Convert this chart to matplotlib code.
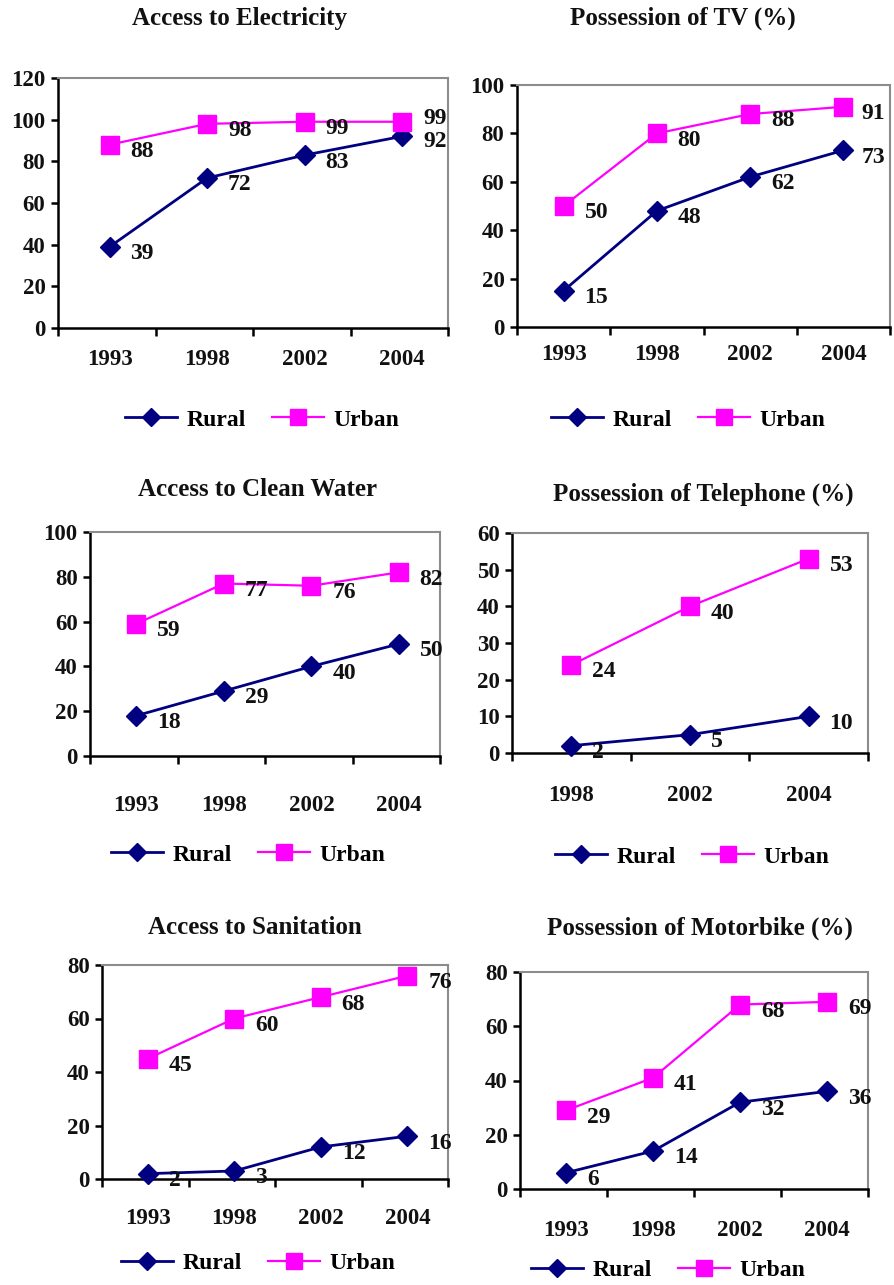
import matplotlib
matplotlib.use("Agg")
import matplotlib.pyplot as plt
from matplotlib.lines import Line2D

plt.rcParams['font.family'] = ['Liberation Serif', 'DejaVu Serif']

W, H = 894, 1285

titles = ["Access to Electricity", "Possession of TV (%)",
          "Access to Clean Water", "Possession of Telephone (%)",
          "Access to Sanitation", "Possession of Motorbike (%)"]

years4 = ["1993", "1998", "2002", "2004"]
years3 = ["1998", "2002", "2004"]

elec_rural = [39, 72, 83, 92]
elec_urban = [88, 98, 99, 99]
tv_rural = [15, 48, 62, 73]
tv_urban = [50, 80, 88, 91]
water_rural = [18, 29, 40, 50]
water_urban = [59, 77, 76, 82]
phone_rural = [2, 5, 10]
phone_urban = [24, 40, 53]
san_rural = [2, 3, 12, 16]
san_urban = [45, 60, 68, 76]
moto_rural = [6, 14, 32, 36]
moto_urban = [29, 41, 68, 69]

panels = [
    dict(cats=years4, rural=elec_rural, urban=elec_urban, ymax=120, step=20,
         box=(58, 78, 448, 328), title_y=18, leg_y=420, leg_x=262, pad=15, off=0.53),
    dict(cats=years4, rural=tv_rural, urban=tv_urban, ymax=100, step=20,
         box=(517, 85, 890, 327), title_y=18, leg_y=420, leg_x=688, pad=12, off=0.5),
    dict(cats=years4, rural=water_rural, urban=water_urban, ymax=100, step=20,
         box=(90, 532, 440, 756), title_y=490, leg_y=855, leg_x=248, pad=28, off=0.53),
    dict(cats=years3, rural=phone_rural, urban=phone_urban, ymax=60, step=10,
         box=(512, 533, 868, 753), title_y=494, leg_y=857, leg_x=692, pad=23, off=0.5),
    dict(cats=years4, rural=san_rural, urban=san_urban, ymax=80, step=20,
         box=(102, 965, 448, 1179), title_y=928, leg_y=1263, leg_x=258, pad=21, off=0.53),
    dict(cats=years4, rural=moto_rural, urban=moto_urban, ymax=80, step=20,
         box=(520, 972, 868, 1189), title_y=928, leg_y=1270, leg_x=668, pad=22, off=0.53),
]

title_x = [240, 683, 257, 703, 255, 700]

fig = plt.figure(figsize=(W / 100, H / 100), dpi=100)

NAVY = "#000080"
MAG = "#FF00FF"
TXT = "#111111"

for i, p in enumerate(panels):
    x0, y0, x1, y1 = p['box']
    ax = fig.add_axes([x0 / W, 1 - y1 / H, (x1 - x0) / W, (y1 - y0) / H])
    n = len(p['cats'])
    xs = [k + p['off'] for k in range(n)]
    ax.plot(xs, p['rural'], color=NAVY, lw=2, marker='D', ms=10,
            markerfacecolor=NAVY, markeredgecolor=NAVY, clip_on=False, zorder=3)
    ax.plot(xs, p['urban'], color=MAG, lw=1.6, marker='s', ms=13,
            markerfacecolor=MAG, markeredgecolor=MAG, clip_on=False, zorder=3)
    for k in range(n):
        ru, ur = p['rural'][k], p['urban'][k]
        dy_r, dy_u = -5, -5
        dx = 15
        if i == 1 and k == n - 1:
            dx = 13
        if i == 0 and k == n - 1:
            dy_u, dy_r = 2, -4
        ax.annotate(str(ru), (xs[k], ru), xytext=(dx, dy_r), textcoords='offset points',
                    ha='left', va='center', fontsize=17, fontweight='bold', color=TXT,
                    annotation_clip=False)
        ax.annotate(str(ur), (xs[k], ur), xytext=(dx, dy_u), textcoords='offset points',
                    ha='left', va='center', fontsize=17, fontweight='bold', color=TXT,
                    annotation_clip=False)
    ax.set_xlim(0, n)
    ax.set_ylim(0, p['ymax'])
    ax.set_xticks(range(n + 1))
    ax.set_xticklabels([])
    ax.set_xticks(xs, minor=True)
    ax.set_xticklabels(p['cats'], minor=True)
    ax.tick_params(axis='x', which='minor', length=0, pad=p['pad'], labelsize=16.5)
    ax.tick_params(axis='x', which='major', direction='out', length=6, width=1.8, color='black')
    ax.set_yticks(range(0, p['ymax'] + 1, p['step']))
    ax.tick_params(axis='y', direction='out', length=5, width=1.8, labelsize=16.5, pad=4)
    for lab in ax.get_xticklabels(minor=True) + ax.get_yticklabels():
        lab.set_fontweight('bold')
        lab.set_color(TXT)
    ax.spines['left'].set_color('black')
    ax.spines['left'].set_linewidth(1.8)
    ax.spines['bottom'].set_color('black')
    ax.spines['bottom'].set_linewidth(1.8)
    ax.spines['top'].set_color('#8c8c8c')
    ax.spines['right'].set_color('#8c8c8c')
    ax.spines['top'].set_linewidth(1.5)
    ax.spines['right'].set_linewidth(1.5)

    fig.text(title_x[i] / W, 1 - p['title_y'] / H, titles[i], ha='center', va='center',
             fontsize=18, fontweight='bold', color=TXT)

    handles = [Line2D([], [], color=NAVY, lw=2, marker='D', ms=9),
               Line2D([], [], color=MAG, lw=1.6, marker='s', ms=12)]
    fig.legend(handles, ["Rural", "Urban"], loc='center',
               bbox_to_anchor=(p['leg_x'] / W, 1 - p['leg_y'] / H), ncol=2,
               frameon=False, prop=dict(size=17, weight='bold'), handlelength=2.2,
               columnspacing=1.1, handletextpad=0.4, borderpad=0)

fig.savefig("out.png", dpi=100)
